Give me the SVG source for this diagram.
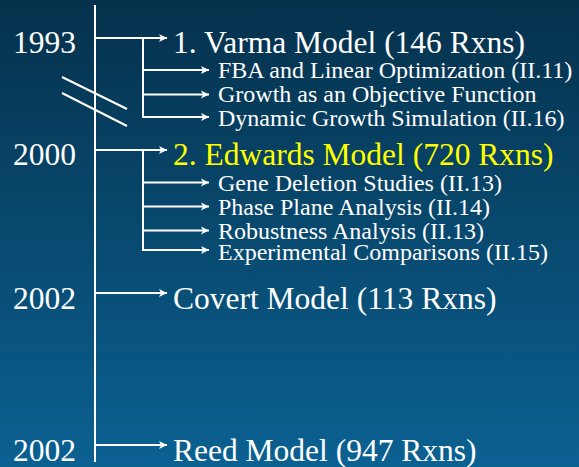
<svg xmlns="http://www.w3.org/2000/svg" width="579" height="467" viewBox="0 0 579 467">
<defs>
<linearGradient id="bg" x1="0" y1="0" x2="0" y2="1">
<stop offset="0" stop-color="#05314c"/>
<stop offset="1" stop-color="#0b6192"/>
</linearGradient>
<marker id="ah" markerUnits="userSpaceOnUse" markerWidth="10" markerHeight="10" refX="9" refY="5" orient="auto">
<path d="M1,1 L9,5 L1,9 L3,5 Z" fill="#ffffff"/>
</marker>
<style>
.ln{stroke:#ffffff;stroke-width:2;fill:none}
.ar{stroke:#ffffff;stroke-width:2;fill:none;marker-end:url(#ah)}
.yr{font-family:"Liberation Serif","Times New Roman",serif;font-size:31.5px;fill:#ffffff}
.big{font-family:"Liberation Serif","Times New Roman",serif;font-size:31.5px;fill:#ffffff}
.sub{font-family:"Liberation Serif","Times New Roman",serif;font-size:24px;fill:#ffffff}
</style>
</defs>
<rect x="0" y="0" width="579" height="467" fill="url(#bg)"/>
<g id="connectors">
<line class="ln" x1="95" y1="5" x2="95" y2="462"/>
<line class="ln" x1="62" y1="77" x2="127" y2="109"/>
<line class="ln" x1="62" y1="93" x2="127" y2="126"/>
<path class="ar" d="M95,38 H167"/>
<path class="ln" d="M143,38 V118"/>
<path class="ar" d="M143,70 H209"/>
<path class="ar" d="M143,94.5 H209"/>
<path class="ar" d="M143,117 H209"/>
<path class="ar" d="M95,150 H167"/>
<path class="ln" d="M143,150 V251"/>
<path class="ar" d="M143,182.5 H209"/>
<path class="ar" d="M143,206.5 H209"/>
<path class="ar" d="M143,230.5 H209"/>
<path class="ar" d="M143,250 H209"/>
<path class="ar" d="M95,293 H167"/>
<path class="ar" d="M95,445 H167"/>
</g>
<g id="y1993"><text class="yr" x="13" y="53">1993</text></g>
<g id="y2000"><text class="yr" x="13" y="165">2000</text></g>
<g id="y2002a"><text class="yr" x="13" y="309">2002</text></g>
<g id="y2002b"><text class="yr" x="13" y="461">2002</text></g>
<g id="varma">
<text class="big" x="173" y="53">1. Varma Model (146 Rxns)</text>
<text class="sub" x="218" y="78">FBA and Linear Optimization (II.11)</text>
<text class="sub" x="218" y="102">Growth as an Objective Function</text>
<text class="sub" x="218" y="126">Dynamic Growth Simulation (II.16)</text>
</g>
<g id="edwards">
<text class="big" x="173" y="165" style="fill:#ffff00">2. Edwards Model (720 Rxns)</text>
<text class="sub" x="218" y="190.5">Gene Deletion Studies (II.13)</text>
<text class="sub" x="218" y="214.5">Phase Plane Analysis (II.14)</text>
<text class="sub" x="218" y="238.5">Robustness Analysis (II.13)</text>
<text class="sub" x="218" y="260">Experimental Comparisons (II.15)</text>
</g>
<g id="covert"><text class="big" x="173" y="309">Covert Model (113 Rxns)</text></g>
<g id="reed"><text class="big" x="173" y="461">Reed Model (947 Rxns)</text></g>
</svg>
